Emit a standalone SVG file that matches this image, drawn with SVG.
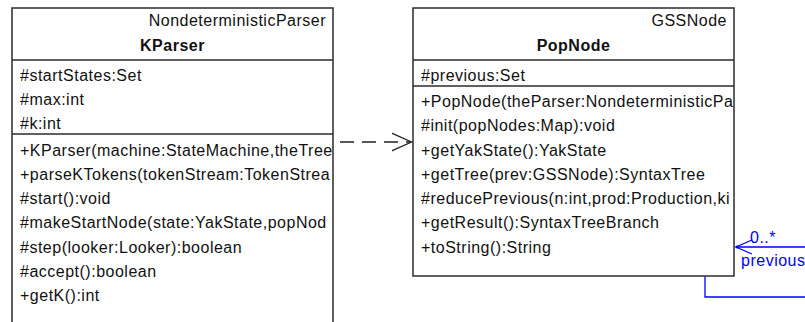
<svg xmlns="http://www.w3.org/2000/svg" width="805" height="322" viewBox="0 0 805 322">
  <style>
    .box { fill: #ffffff; stroke: #2b2b2b; stroke-width: 1.5; }
    .div { stroke: #2b2b2b; stroke-width: 1.5; }
    .t { font-family: "Liberation Sans", Arial, sans-serif; font-size: 16px; letter-spacing: 0.5px; fill: #111111; }
    .st { text-anchor: end; }
    .nm { font-weight: bold; text-anchor: middle; }
    .dep { fill: none; stroke: #222222; stroke-width: 1.3; stroke-dasharray: 14 8; }
    .assoc { fill: none; stroke: #0000ff; stroke-width: 1.3; }
    .lbl { font-family: "Liberation Sans", Arial, sans-serif; font-size: 16px; letter-spacing: 0.5px; fill: #0000ff; }
  </style>
  <defs>
    <clipPath id="clipK"><rect x="12" y="8" width="320.5" height="330"/></clipPath>
    <clipPath id="clipP"><rect x="413" y="8" width="320.5" height="268"/></clipPath>
    <marker id="openArrow" markerUnits="userSpaceOnUse" markerWidth="24" markerHeight="24" refX="20" refY="10" orient="auto" viewBox="0 0 24 20">
      <polyline points="0,1 20,10 0,19" fill="none" stroke="#222222" stroke-width="1.3"/>
    </marker>
  </defs>
  <rect width="805" height="322" fill="#ffffff"/>

  <g id="node-kparser">
    <rect class="box" x="12" y="8" width="321" height="330"/>
    <line class="div" x1="12" y1="60" x2="333" y2="60"/>
    <line class="div" x1="12" y1="134" x2="333" y2="134"/>
    <g clip-path="url(#clipK)">
      <text class="t st" x="326" y="26">NondeterministicParser</text>
      <text class="t nm" x="172.5" y="51">KParser</text>
      <text class="t" x="20" y="80.5">#startStates:Set</text>
      <text class="t" x="20" y="104.75">#max:int</text>
      <text class="t" x="20" y="129">#k:int</text>
      <text class="t" x="20" y="155.5">+KParser(machine:StateMachine,theTree</text>
      <text class="t" x="20" y="179.75">+parseKTokens(tokenStream:TokenStrea</text>
      <text class="t" x="20" y="204">#start():void</text>
      <text class="t" x="20" y="228.25">#makeStartNode(state:YakState,popNod</text>
      <text class="t" x="20" y="252.5">#step(looker:Looker):boolean</text>
      <text class="t" x="20" y="276.75">#accept():boolean</text>
      <text class="t" x="20" y="301">+getK():int</text>
    </g>
  </g>

  <g id="node-popnode">
    <rect class="box" x="413" y="8" width="321" height="268"/>
    <line class="div" x1="413" y1="60" x2="734" y2="60"/>
    <line class="div" x1="413" y1="86" x2="734" y2="86"/>
    <g clip-path="url(#clipP)">
      <text class="t st" x="727" y="26">GSSNode</text>
      <text class="t nm" x="573.5" y="51">PopNode</text>
      <text class="t" x="421" y="80.5">#previous:Set</text>
      <text class="t" x="421" y="107">+PopNode(theParser:NondeterministicPa</text>
      <text class="t" x="421" y="131.25">#init(popNodes:Map):void</text>
      <text class="t" x="421" y="155.5">+getYakState():YakState</text>
      <text class="t" x="421" y="179.75">+getTree(prev:GSSNode):SyntaxTree</text>
      <text class="t" x="421" y="204">#reducePrevious(n:int,prod:Production,ki</text>
      <text class="t" x="421" y="228.25">+getResult():SyntaxTreeBranch</text>
      <text class="t" x="421" y="252.5">+toString():String</text>
    </g>
  </g>

  <g id="connectors">
    <line class="dep" x1="340" y1="142" x2="411.5" y2="142" marker-end="url(#openArrow)"/>
    <g id="assoc-previous">
      <polyline class="assoc" points="805,247 736,247"/>
      <polyline class="assoc" points="705,276.5 705,297 805,297"/>
      <polyline class="assoc" points="752,240 736,247 752,254"/>
      <circle cx="737" cy="247" r="1.4" fill="#0000ff"/>
      <text class="lbl" x="750" y="243">0..*</text>
      <text class="lbl" x="741" y="266">previous</text>
    </g>
  </g>
</svg>
